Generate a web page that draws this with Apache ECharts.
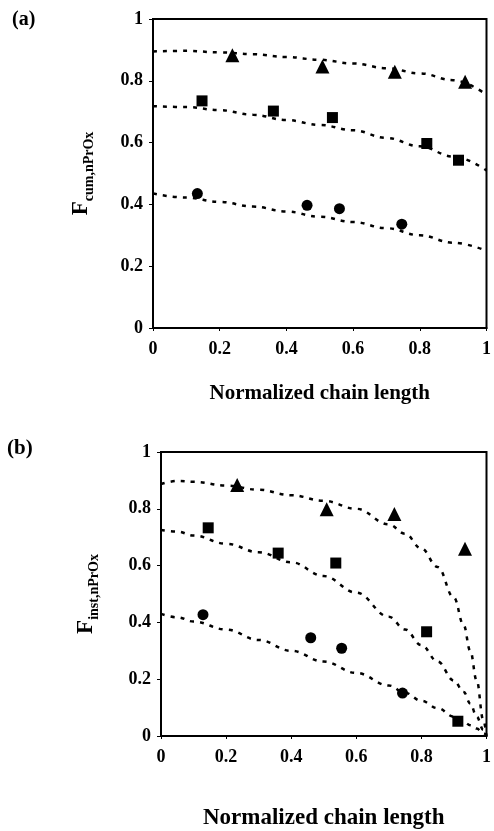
<!DOCTYPE html>
<html>
<head>
<meta charset="utf-8">
<script src="https://cdn.jsdelivr.net/npm/echarts@6/dist/echarts.min.js"></script>
<style>
  html, body { margin: 0; padding: 0; background: #fff; }
  #chart { width: 494px; height: 831px; }
</style>
</head>
<body>
<div id="chart"></div>
<script>
// axis ticks
var xTicks = [0, 0.2, 0.4, 0.6, 0.8, 1];
var yTicks = [0, 0.2, 0.4, 0.6, 0.8, 1];

// panel (a) measured points
var aTriX = [0.238, 0.508, 0.725, 0.936];
var aTriY = [0.883, 0.846, 0.829, 0.797];
var aSqX = [0.147, 0.361, 0.538, 0.821, 0.916];
var aSqY = [0.735, 0.702, 0.681, 0.597, 0.543];
var aCirX = [0.133, 0.462, 0.559, 0.746];
var aCirY = [0.435, 0.397, 0.386, 0.336];

// panel (a) model curves (dashed)
var aFitX = [0, 0.1, 0.2, 0.3, 0.4, 0.5, 0.6, 0.7, 0.8, 0.9, 1.0];
var aFitTri = [0.895, 0.897, 0.892, 0.886, 0.877, 0.868, 0.856, 0.841, 0.824, 0.802, 0.755];
var aFitSq = [0.718, 0.715, 0.705, 0.690, 0.673, 0.657, 0.640, 0.615, 0.588, 0.555, 0.510];
var aFitCir = [0.435, 0.422, 0.408, 0.393, 0.377, 0.360, 0.343, 0.323, 0.300, 0.276, 0.250];

// panel (b) measured points
var bTriX = [0.234, 0.509, 0.717, 0.934];
var bTriY = [0.884, 0.798, 0.782, 0.659];
var bSqX = [0.145, 0.360, 0.537, 0.816, 0.912];
var bSqY = [0.733, 0.644, 0.609, 0.367, 0.052];
var bCirX = [0.129, 0.460, 0.555, 0.742];
var bCirY = [0.427, 0.346, 0.309, 0.151];

// panel (b) model curves (dashed)
var bFitX = [0, 0.05, 0.1, 0.2, 0.3, 0.4, 0.5, 0.6, 0.7, 0.75, 0.8, 0.85, 0.9, 0.93, 0.95, 0.97, 0.99, 1.0];
var bFitTri = [0.887, 0.898, 0.895, 0.882, 0.867, 0.848, 0.828, 0.800, 0.745, 0.712, 0.660, 0.595, 0.487, 0.390, 0.300, 0.195, 0.057, 0.0];
var bFitSq = [0.725, 0.720, 0.706, 0.677, 0.647, 0.612, 0.563, 0.505, 0.420, 0.375, 0.320, 0.262, 0.195, 0.155, 0.115, 0.068, 0.022, 0.005];
var bFitCir = [0.430, 0.418, 0.403, 0.375, 0.338, 0.300, 0.262, 0.222, 0.178, 0.152, 0.124, 0.098, 0.068, 0.050, 0.038, 0.026, 0.010, 0.004];

var FONT = '"Liberation Serif", "Times New Roman", serif';

function zip(xs, ys) {
  return xs.map(function (x, i) { return [x, ys[i]]; });
}

function xAxisOf(idx, gap, titleSize, tickSize) {
  return {
    gridIndex: idx, type: 'value', min: 0, max: 1, interval: 0.2,
    name: 'Normalized chain length', nameLocation: 'middle', nameGap: gap,
    nameTextStyle: { fontFamily: FONT, fontWeight: 'bold', fontSize: titleSize, color: '#000' },
    axisLine: { show: true, lineStyle: { color: '#000', width: 2 } },
    axisTick: { show: true, inside: false, length: 3, lineStyle: { color: '#000', width: 1 } },
    axisLabel: { fontFamily: FONT, fontWeight: 'bold', fontSize: tickSize, color: '#000', margin: 12 },
    splitLine: { show: false }
  };
}

function yAxisOf(idx, sub, gap, tickSize) {
  return {
    gridIndex: idx, type: 'value', min: 0, max: 1, interval: 0.2,
    name: '{F|F}{s|' + sub + '}', nameLocation: 'middle', nameGap: gap, nameRotate: 90,
    nameTextStyle: {
      color: '#000',
      rich: {
        F: { fontFamily: FONT, fontWeight: 'bold', fontSize: 23, color: '#000', verticalAlign: 'bottom', padding: [0, 0, 3, 0] },
        s: { fontFamily: FONT, fontWeight: 'bold', fontSize: 14, color: '#000', verticalAlign: 'bottom' }
      }
    },
    axisLine: { show: true, lineStyle: { color: '#000', width: 2 } },
    axisTick: { show: true, inside: false, length: 4, lineStyle: { color: '#000', width: 1 } },
    axisLabel: { fontFamily: FONT, fontWeight: 'bold', fontSize: tickSize, color: '#000', margin: 10 },
    splitLine: { show: false }
  };
}

function fitLine(idx, xs, ys) {
  return {
    type: 'line', xAxisIndex: idx, yAxisIndex: idx,
    data: zip(xs, ys), showSymbol: false, smooth: 0.4, smoothMonotone: 'x',
    lineStyle: { color: '#000', width: 2.5, type: [4, 6] }, z: 2, silent: true
  };
}

function marks(idx, xs, ys, symbol, size) {
  return {
    type: 'scatter', xAxisIndex: idx, yAxisIndex: idx,
    data: zip(xs, ys), symbol: symbol, symbolSize: size,
    itemStyle: { color: '#000', opacity: 1 }, z: 3
  };
}

var myChart = echarts.init(document.getElementById('chart'));
var option = {
  animation: false,
  backgroundColor: '#fff',
  grid: [
    { left: 153, right: 2, top: 19, height: 309, show: true, borderColor: '#000', borderWidth: 2 },
    { left: 161, right: 4, top: 452, height: 291, show: true, borderColor: '#000', borderWidth: 2 }
  ],
  xAxis: [xAxisOf(0, 55, 21, 18), xAxisOf(1, 71, 23, 18)],
  yAxis: [yAxisOf(0, 'cum,nPrOx', 57, 18), yAxisOf(1, 'inst,nPrOx', 60, 18)],
  graphic: [
    { type: 'text', left: 12, top: 10, style: { text: '(a)', font: 'bold 20px ' + FONT, fill: '#000' } },
    { type: 'text', left: 7, top: 438, style: { text: '(b)', font: 'bold 21px ' + FONT, fill: '#000' } }
  ],
  series: [
    fitLine(0, aFitX, aFitTri),
    fitLine(0, aFitX, aFitSq),
    fitLine(0, aFitX, aFitCir),
    marks(0, aTriX, aTriY, 'triangle', 14),
    marks(0, aSqX, aSqY, 'rect', 11),
    marks(0, aCirX, aCirY, 'circle', 11),
    fitLine(1, bFitX, bFitTri),
    fitLine(1, bFitX, bFitSq),
    fitLine(1, bFitX, bFitCir),
    marks(1, bTriX, bTriY, 'triangle', 14),
    marks(1, bSqX, bSqY, 'rect', 11),
    marks(1, bCirX, bCirY, 'circle', 11)
  ]
};
window.onresize = myChart.resize;
myChart.setOption(option);
</script>
</body>
</html>
